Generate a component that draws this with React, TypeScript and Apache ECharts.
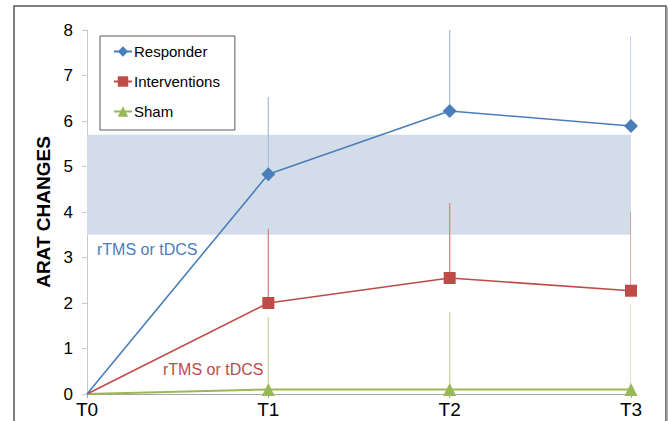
import React, { useEffect, useRef } from "react";
import * as echarts from "echarts";

const categories = ["T0", "T1", "T2", "T3"];
const responder = [0, 4.83, 6.22, 5.89];
const interventions = [0, 2.0, 2.55, 2.27];
const sham = [0, 0.1, 0.1, 0.1];
const responderUpper = [null, 6.53, 8.0, 7.87];
const interventionsUpper = [null, 3.63, 4.2, 4.0];
const shamUpper = [null, 1.69, 1.8, 1.98];
const bandLow = 3.5;
const bandHigh = 5.7;
const yTicks = [0, 1, 2, 3, 4, 5, 6, 7, 8];
const annotation = "rTMS or tDCS";

const BLUE = "#4a7ebb";
const RED = "#be4b48";
const GREEN = "#98b954";
const FONT = "Liberation Sans, Arial, sans-serif";

function errorData(vals: number[], upper: (number | null)[]) {
  const out: number[][] = [];
  vals.forEach((v, i) => {
    const u = upper[i];
    if (u !== null && u !== undefined) out.push([i, v, u]);
  });
  return out;
}

function errorSeries(vals: number[], upper: (number | null)[], color: string) {
  return {
    type: "custom",
    silent: true,
    z: 3,
    clip: true,
    data: errorData(vals, upper),
    encode: { x: 0, y: [1, 2] },
    renderItem: (params: any, api: any) => {
      const a = api.coord([api.value(0), api.value(1)]);
      const b = api.coord([api.value(0), api.value(2)]);
      return {
        type: "line",
        shape: { x1: a[0], y1: a[1], x2: b[0], y2: b[1] },
        style: { stroke: color, lineWidth: 1.3 },
      };
    },
  };
}

function lineData(vals: number[]) {
  return vals.map((v, i) => (i === 0 ? { value: v, symbol: "none" } : v));
}

export default function App() {
  const ref = useRef<HTMLDivElement>(null);
  useEffect(() => {
    if (!ref.current) return;
    const chart = echarts.init(ref.current, undefined, { renderer: "svg" });
    chart.setOption({
      animation: false,
      textStyle: { fontFamily: FONT },
      grid: { left: 87, right: 38, top: 30, bottom: 27 },
      legend: {
        data: ["Responder", "Interventions", "Sham"],
        orient: "vertical",
        left: 100,
        top: 36,
        padding: [8, 15, 11, 13],
        borderColor: "#595959",
        borderWidth: 1,
        itemWidth: 18,
        itemHeight: 13,
        itemGap: 15,
        textStyle: { fontSize: 15, color: "#000", fontFamily: FONT, padding: [0, 0, 0, -3] },
      },
      xAxis: {
        type: "category",
        data: categories,
        boundaryGap: false,
        axisLine: { lineStyle: { color: "#a6a6a6", width: 1 } },
        axisTick: { show: true, length: 4, lineStyle: { color: "#a6a6a6" } },
        axisLabel: { fontSize: 19, color: "#000", margin: 6, fontFamily: FONT },
        splitLine: { show: false },
      },
      yAxis: {
        type: "value",
        min: yTicks[0],
        max: yTicks[yTicks.length - 1],
        interval: 1,
        name: "ARAT CHANGES",
        nameLocation: "middle",
        nameGap: 30,
        nameTextStyle: { fontSize: 19, fontWeight: "bold", color: "#000", fontFamily: FONT },
        axisLine: { show: true, lineStyle: { color: "#c8c8c8", width: 1 } },
        axisTick: { show: true, length: 5, lineStyle: { color: "#c8c8c8" } },
        axisLabel: { fontSize: 17, color: "#000", margin: 14, fontFamily: FONT },
        splitLine: { show: false },
      },
      series: [
        {
          name: "band",
          type: "line",
          data: [],
          z: 0,
          silent: true,
          markArea: {
            silent: true,
            itemStyle: { color: "#d3ddea" },
            data: [[{ yAxis: bandLow }, { yAxis: bandHigh }]],
          },
        },
        errorSeries(responder, responderUpper, "#a9c1e1"),
        errorSeries(interventions, interventionsUpper, "#d98583"),
        errorSeries(sham, shamUpper, "#c6da9f"),
        {
          name: "Sham",
          type: "line",
          data: lineData(sham),
          z: 4,
          symbol: "triangle",
          symbolSize: 13,
          lineStyle: { color: GREEN, width: 2 },
          itemStyle: { color: GREEN },
        },
        {
          name: "Interventions",
          type: "line",
          data: lineData(interventions),
          z: 5,
          symbol: "rect",
          symbolSize: 12,
          lineStyle: { color: RED, width: 1.6 },
          itemStyle: { color: RED },
        },
        {
          name: "Responder",
          type: "line",
          data: lineData(responder),
          z: 6,
          symbol: "diamond",
          symbolSize: 14,
          lineStyle: { color: BLUE, width: 1.6 },
          itemStyle: { color: BLUE },
        },
      ],
      graphic: [
        {
          type: "rect",
          silent: true,
          shape: { x: 14, y: 6, width: 652, height: 430 },
          style: { fill: "none", stroke: "#555", lineWidth: 1.5 },
          z: -1,
        },
        {
          type: "line",
          silent: true,
          shape: { x1: 667, y1: 7, x2: 667, y2: 421 },
          style: { stroke: "#999", lineWidth: 1.5 },
        },
        {
          type: "text",
          silent: true,
          x: 97,
          y: 249,
          style: { text: annotation, fill: BLUE, fontSize: 16, fontFamily: FONT, verticalAlign: "middle", align: "left" },
        },
        {
          type: "text",
          silent: true,
          x: 163,
          y: 369,
          style: { text: annotation, fill: RED, fontSize: 16, fontFamily: FONT, verticalAlign: "middle", align: "left" },
        },
      ],
    });
    return () => chart.dispose();
  }, []);
  return (
    <div
      ref={ref}
      style={{ position: "fixed", left: 0, top: 0, width: 669, height: 421, background: "#fff" }}
    />
  );
}
